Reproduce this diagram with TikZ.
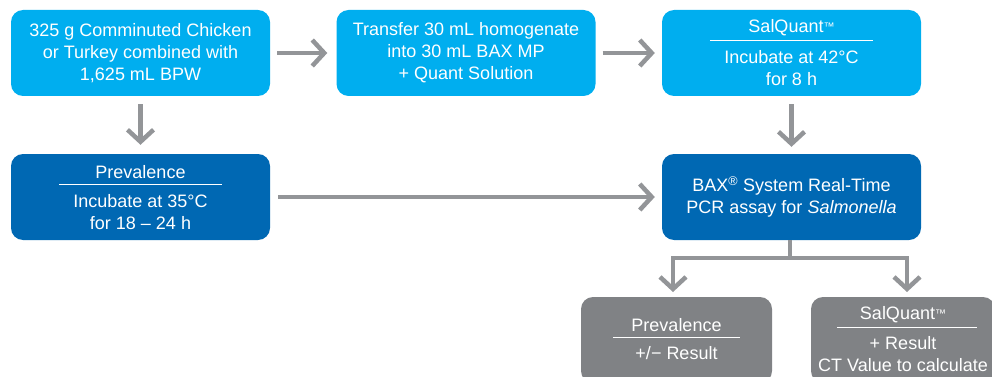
\documentclass[tikz,border=0pt]{standalone}
\usepackage{fontspec}
\setmainfont{Liberation Sans}
\usetikzlibrary{arrows.meta}
\definecolor{lblue}{HTML}{00AEEF}
\definecolor{dblue}{HTML}{0068B3}
\definecolor{gbox}{HTML}{808285}
\definecolor{agray}{HTML}{939598}
\newcommand{\tmark}{\raisebox{2.5pt}{\fontsize{11}{11}\selectfont ™}}
\tikzset{
  boxbase/.style={rounded corners=12pt, minimum height=86pt, inner sep=0pt},
  lbox/.style={boxbase, fill=lblue, minimum width=259pt},
  dbox/.style={boxbase, fill=dblue, minimum width=259pt},
  gboxs/.style={boxbase, fill=gbox},
  txt/.style={text=white, align=center, inner sep=0pt, font=\fontsize{18}{22}\selectfont},
  sep/.style={draw=white, line width=1pt},
  arr/.style={draw=agray, line width=4.5pt, miter limit=4, -{Straight Barb[length=12pt,width=26pt]}},
  conn/.style={draw=agray, line width=4.5pt},
}
\begin{document}
\begin{tikzpicture}[x=1pt,y=-1pt]
\useasboundingbox (0,0) rectangle (992,377);
\clip (0,0) rectangle (992,377);
% top row
\node[lbox] (b1) at (140.5,53) {};
\node[txt] (t1) at (b1) {325 g Comminuted Chicken\\or Turkey combined with\\1,625 mL BPW};
\node[lbox] (b2) at (466,53) {};
\node[txt] (t2) at (b2) {Transfer 30 mL homogenate\\into 30 mL BAX MP\\+ Quant Solution};
\node[lbox] (b3) at (791.5,53) {};
\node[txt] (t3h) at (791.5,28) {SalQuant\tmark};
\draw[sep] (710,40.5) -- (873,40.5);
\node[txt] (t3) at (791.5,68) {Incubate at 42°C\\for 8 h};
% middle row
\node[dbox] (b4) at (140.5,197) {};
\node[txt] (t4h) at (140.5,172) {Prevalence};
\draw[sep] (59,184.5) -- (222,184.5);
\node[txt] (t4) at (140.5,212) {Incubate at 35°C\\for 18 – 24 h};
\node[dbox] (b5) at (791.5,197) {};
\node[txt] (t5) at (b5) {BAX\textsuperscript{®} System Real-Time\\PCR assay for \textit{Salmonella}};
% bottom row
\node[gboxs, minimum width=191pt] (b6) at (676.5,340) {};
\node[txt] (t6h) at (676.5,325) {Prevalence};
\draw[sep] (613,337.5) -- (740,337.5);
\node[txt] (t6) at (676.5,353) {+/− Result};
\node[gboxs, minimum width=184pt] (b7) at (903,340) {};
\node[txt] (t7h) at (903,315) {SalQuant\tmark};
\draw[sep] (837,327.5) -- (977,327.5);
\node[txt] (t7) at (903,354) {+ Result\\CT Value to calculate};
% connectors
\draw[arr] ([xshift=7pt]b1.east) -- ([xshift=-9pt]b2.west);
\draw[arr] ([xshift=7pt]b2.east) -- ([xshift=-7pt]b3.west);
\draw[arr] ([yshift=-8pt]b1.south) -- ([yshift=9pt]b4.north);
\draw[arr] ([yshift=-8pt]b3.south) -- ([yshift=7pt]b5.north);
\draw[arr] ([xshift=8pt]b4.east) -- ([xshift=-7pt]b5.west);
\coordinate (fork) at (790,258);
\coordinate (el) at (673,292);
\coordinate (er) at (907,292);
\draw[conn] (b5.south -| fork) -- (fork);
\draw[arr] (fork) -| (el);
\draw[arr] (fork) -| (er);
\end{tikzpicture}
\end{document}
